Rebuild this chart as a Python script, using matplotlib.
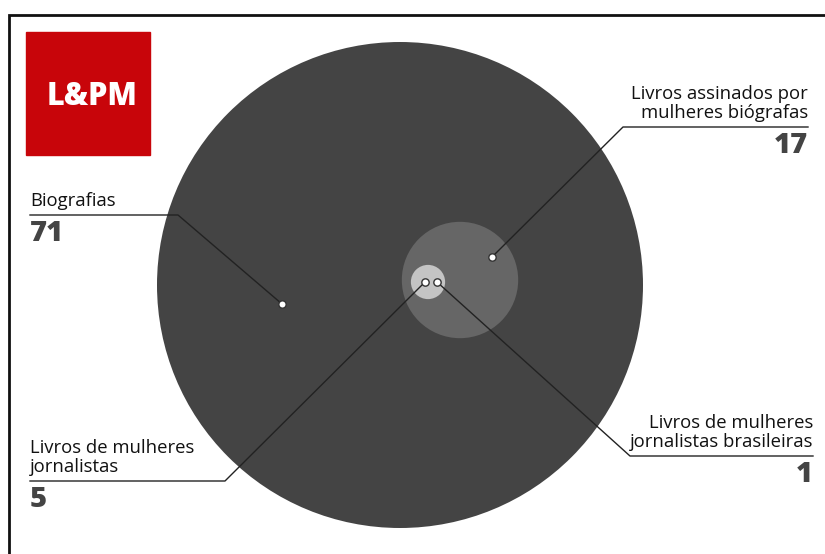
import matplotlib.pyplot as plt
from matplotlib.patches import Circle, Rectangle

# Data
labels = ['Biografias', 'Livros assinados por\nmulheres biógrafas',
          'Livros de mulheres\njornalistas', 'Livros de mulheres\njornalistas brasileiras']
values = [71, 17, 5, 1]
value_text = ['71', '17', '5', '1']

# Layout (pixels)
centers = [(400, 285), (460, 280), (428, 282), (437, 282)]
colors = ['#444444', '#666666', '#c4c4c4', '#e6e6e6']
scale = 243 / 71  # radius proportional to value

dots = [(282, 304), (492, 257), (425, 282), (437, 282)]
elbows = [(178, 215), (623, 127), (225, 481), (630, 456)]
ends = [30, 808, 30, 813]
aligns = ['left', 'right', 'left', 'right']

plt.rcParams['font.family'] = ['Open Sans', 'DejaVu Sans']

fig = plt.figure(figsize=(8.25, 5.54), dpi=100)
ax = fig.add_axes([0, 0, 1, 1])
ax.set_xlim(0, 825)
ax.set_ylim(554, 0)
ax.axis('off')

# frame (top and left only visible)
ax.plot([9, 9, 830], [560, 15, 15], color='#111111', lw=2, solid_joinstyle='miter')

# logo
ax.add_patch(Rectangle((26, 32), 124, 123, color='#c8050a'))
ax.text(92, 97, 'L&PM', color='white', fontsize=22, fontweight='heavy',
        ha='center', va='center')

# circles
for c, v, col in zip(centers, values, colors):
    ax.add_patch(Circle(c, v * scale, color=col, lw=0))

# leader lines, dots and labels
for i in range(len(labels)):
    d, e, x_end = dots[i], elbows[i], ends[i]
    ax.plot([d[0], e[0], x_end], [d[1], e[1], e[1]], color='#222222', lw=1, zorder=3)
    ax.scatter([d[0]], [d[1]], s=28, color='white', edgecolor='#333333', lw=1, zorder=4)
    ax.text(x_end, e[1] - 5, labels[i], ha=aligns[i], va='bottom', fontsize=13.3,
            fontweight='medium', color='#111111', linespacing=1.05)
    ax.text(x_end, e[1] + 4, value_text[i], ha=aligns[i], va='top', fontsize=21,
            fontweight='heavy', color='#444444')

fig.savefig('out.png', dpi=100)
